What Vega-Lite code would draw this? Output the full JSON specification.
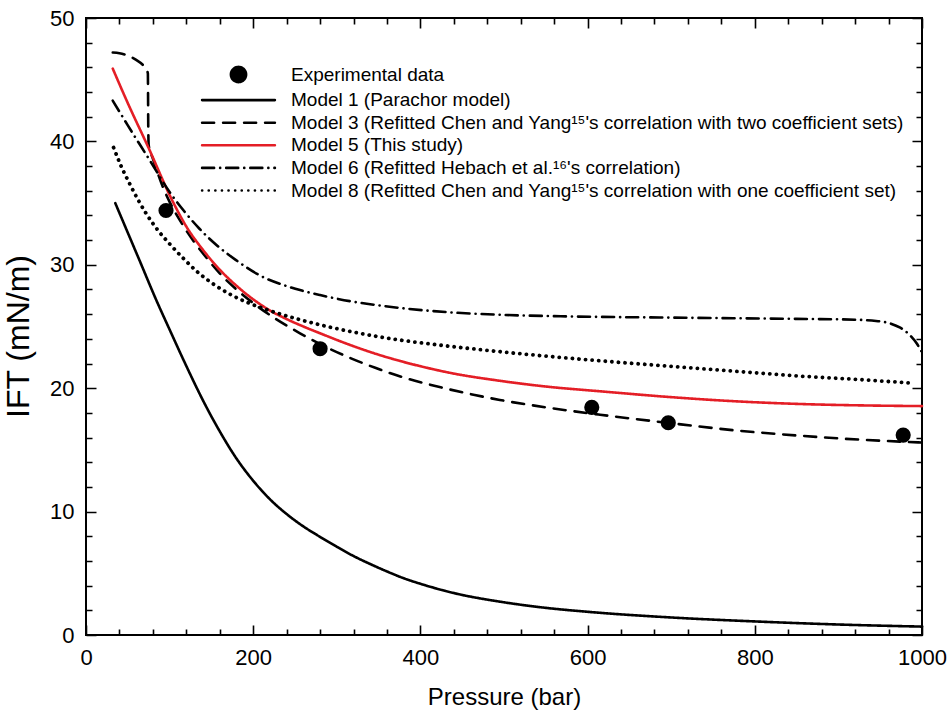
{
  "$schema": "https://vega.github.io/schema/vega-lite/v6.json",
  "width": 836,
  "height": 617,
  "autosize": {"type": "none"},
  "padding": {"left": 86, "top": 18, "right": 28, "bottom": 86},
  "background": "white",
  "config": {
    "view": {"stroke": "black", "strokeWidth": 2},
    "font": "Liberation Sans",
    "axis": {
      "domain": false, "ticks": false, "tickSize": 0, "grid": true, "gridColor": "#000000", "gridWidth": 1.6, "gridOpacity": 1,
      "labelColor": "black", "titleColor": "black", "labelFont": "Liberation Sans",
      "titleFont": "Liberation Sans", "titleFontWeight": "normal",
      "labelFontSize": 22, "titleFontSize": 24, "labelOverlap": false, "labelFlush": false
    },
    "line": {"interpolate": "monotone", "strokeCap": "round", "clip": true}
  },
  "datasets": {
    "curves": [
      {"series": "Model 1 (Parachor model)", "P": 35, "IFT": 35.0},
      {"series": "Model 1 (Parachor model)", "P": 50, "IFT": 32.6},
      {"series": "Model 1 (Parachor model)", "P": 65, "IFT": 30.2},
      {"series": "Model 1 (Parachor model)", "P": 84, "IFT": 27.15},
      {"series": "Model 1 (Parachor model)", "P": 100, "IFT": 24.75},
      {"series": "Model 1 (Parachor model)", "P": 120, "IFT": 21.8},
      {"series": "Model 1 (Parachor model)", "P": 140, "IFT": 19.0},
      {"series": "Model 1 (Parachor model)", "P": 160, "IFT": 16.5},
      {"series": "Model 1 (Parachor model)", "P": 180, "IFT": 14.3},
      {"series": "Model 1 (Parachor model)", "P": 200, "IFT": 12.5},
      {"series": "Model 1 (Parachor model)", "P": 220, "IFT": 11.0},
      {"series": "Model 1 (Parachor model)", "P": 240, "IFT": 9.8},
      {"series": "Model 1 (Parachor model)", "P": 260, "IFT": 8.8},
      {"series": "Model 1 (Parachor model)", "P": 280, "IFT": 7.95},
      {"series": "Model 1 (Parachor model)", "P": 300, "IFT": 7.15},
      {"series": "Model 1 (Parachor model)", "P": 320, "IFT": 6.4},
      {"series": "Model 1 (Parachor model)", "P": 340, "IFT": 5.75},
      {"series": "Model 1 (Parachor model)", "P": 360, "IFT": 5.15},
      {"series": "Model 1 (Parachor model)", "P": 380, "IFT": 4.6},
      {"series": "Model 1 (Parachor model)", "P": 400, "IFT": 4.15},
      {"series": "Model 1 (Parachor model)", "P": 440, "IFT": 3.4},
      {"series": "Model 1 (Parachor model)", "P": 500, "IFT": 2.65},
      {"series": "Model 1 (Parachor model)", "P": 550, "IFT": 2.2},
      {"series": "Model 1 (Parachor model)", "P": 600, "IFT": 1.88},
      {"series": "Model 1 (Parachor model)", "P": 700, "IFT": 1.42},
      {"series": "Model 1 (Parachor model)", "P": 800, "IFT": 1.1},
      {"series": "Model 1 (Parachor model)", "P": 900, "IFT": 0.85},
      {"series": "Model 1 (Parachor model)", "P": 1000, "IFT": 0.68},

      {"series": "Model 3 (Refitted Chen and Yang¹⁵'s correlation with two coefficient sets)", "P": 32, "IFT": 47.2},
      {"series": "Model 3 (Refitted Chen and Yang¹⁵'s correlation with two coefficient sets)", "P": 40, "IFT": 47.15},
      {"series": "Model 3 (Refitted Chen and Yang¹⁵'s correlation with two coefficient sets)", "P": 50, "IFT": 46.95},
      {"series": "Model 3 (Refitted Chen and Yang¹⁵'s correlation with two coefficient sets)", "P": 60, "IFT": 46.6},
      {"series": "Model 3 (Refitted Chen and Yang¹⁵'s correlation with two coefficient sets)", "P": 68, "IFT": 46.2},
      {"series": "Model 3 (Refitted Chen and Yang¹⁵'s correlation with two coefficient sets)", "P": 72, "IFT": 45.9},
      {"series": "Model 3 (Refitted Chen and Yang¹⁵'s correlation with two coefficient sets)", "P": 74, "IFT": 45.5},
      {"series": "Model 3 (Refitted Chen and Yang¹⁵'s correlation with two coefficient sets)", "P": 74.5, "IFT": 41.0},
      {"series": "Model 3 (Refitted Chen and Yang¹⁵'s correlation with two coefficient sets)", "P": 75, "IFT": 39.7},
      {"series": "Model 3 (Refitted Chen and Yang¹⁵'s correlation with two coefficient sets)", "P": 80, "IFT": 38.6},
      {"series": "Model 3 (Refitted Chen and Yang¹⁵'s correlation with two coefficient sets)", "P": 86, "IFT": 37.4},
      {"series": "Model 3 (Refitted Chen and Yang¹⁵'s correlation with two coefficient sets)", "P": 92, "IFT": 36.3},
      {"series": "Model 3 (Refitted Chen and Yang¹⁵'s correlation with two coefficient sets)", "P": 100, "IFT": 35.1},
      {"series": "Model 3 (Refitted Chen and Yang¹⁵'s correlation with two coefficient sets)", "P": 116, "IFT": 33.2},
      {"series": "Model 3 (Refitted Chen and Yang¹⁵'s correlation with two coefficient sets)", "P": 130, "IFT": 31.8},
      {"series": "Model 3 (Refitted Chen and Yang¹⁵'s correlation with two coefficient sets)", "P": 145, "IFT": 30.5},
      {"series": "Model 3 (Refitted Chen and Yang¹⁵'s correlation with two coefficient sets)", "P": 160, "IFT": 29.3},
      {"series": "Model 3 (Refitted Chen and Yang¹⁵'s correlation with two coefficient sets)", "P": 180, "IFT": 28.0},
      {"series": "Model 3 (Refitted Chen and Yang¹⁵'s correlation with two coefficient sets)", "P": 200, "IFT": 26.9},
      {"series": "Model 3 (Refitted Chen and Yang¹⁵'s correlation with two coefficient sets)", "P": 225, "IFT": 25.7},
      {"series": "Model 3 (Refitted Chen and Yang¹⁵'s correlation with two coefficient sets)", "P": 256, "IFT": 24.45},
      {"series": "Model 3 (Refitted Chen and Yang¹⁵'s correlation with two coefficient sets)", "P": 285, "IFT": 23.4},
      {"series": "Model 3 (Refitted Chen and Yang¹⁵'s correlation with two coefficient sets)", "P": 316, "IFT": 22.45},
      {"series": "Model 3 (Refitted Chen and Yang¹⁵'s correlation with two coefficient sets)", "P": 346, "IFT": 21.65},
      {"series": "Model 3 (Refitted Chen and Yang¹⁵'s correlation with two coefficient sets)", "P": 376, "IFT": 20.95},
      {"series": "Model 3 (Refitted Chen and Yang¹⁵'s correlation with two coefficient sets)", "P": 405, "IFT": 20.4},
      {"series": "Model 3 (Refitted Chen and Yang¹⁵'s correlation with two coefficient sets)", "P": 435, "IFT": 19.9},
      {"series": "Model 3 (Refitted Chen and Yang¹⁵'s correlation with two coefficient sets)", "P": 465, "IFT": 19.45},
      {"series": "Model 3 (Refitted Chen and Yang¹⁵'s correlation with two coefficient sets)", "P": 495, "IFT": 19.05},
      {"series": "Model 3 (Refitted Chen and Yang¹⁵'s correlation with two coefficient sets)", "P": 555, "IFT": 18.4},
      {"series": "Model 3 (Refitted Chen and Yang¹⁵'s correlation with two coefficient sets)", "P": 615, "IFT": 17.85},
      {"series": "Model 3 (Refitted Chen and Yang¹⁵'s correlation with two coefficient sets)", "P": 695, "IFT": 17.2},
      {"series": "Model 3 (Refitted Chen and Yang¹⁵'s correlation with two coefficient sets)", "P": 774, "IFT": 16.6},
      {"series": "Model 3 (Refitted Chen and Yang¹⁵'s correlation with two coefficient sets)", "P": 854, "IFT": 16.15},
      {"series": "Model 3 (Refitted Chen and Yang¹⁵'s correlation with two coefficient sets)", "P": 934, "IFT": 15.8},
      {"series": "Model 3 (Refitted Chen and Yang¹⁵'s correlation with two coefficient sets)", "P": 1000, "IFT": 15.6},

      {"series": "Model 5 (This study)", "P": 32, "IFT": 45.9},
      {"series": "Model 5 (This study)", "P": 50, "IFT": 43.1},
      {"series": "Model 5 (This study)", "P": 74, "IFT": 39.6},
      {"series": "Model 5 (This study)", "P": 104, "IFT": 35.1},
      {"series": "Model 5 (This study)", "P": 120, "IFT": 33.1},
      {"series": "Model 5 (This study)", "P": 140, "IFT": 31.2},
      {"series": "Model 5 (This study)", "P": 160, "IFT": 29.6},
      {"series": "Model 5 (This study)", "P": 180, "IFT": 28.3},
      {"series": "Model 5 (This study)", "P": 200, "IFT": 27.2},
      {"series": "Model 5 (This study)", "P": 220, "IFT": 26.3},
      {"series": "Model 5 (This study)", "P": 240, "IFT": 25.6},
      {"series": "Model 5 (This study)", "P": 260, "IFT": 25.0},
      {"series": "Model 5 (This study)", "P": 280, "IFT": 24.45},
      {"series": "Model 5 (This study)", "P": 316, "IFT": 23.5},
      {"series": "Model 5 (This study)", "P": 346, "IFT": 22.8},
      {"series": "Model 5 (This study)", "P": 376, "IFT": 22.2},
      {"series": "Model 5 (This study)", "P": 405, "IFT": 21.7},
      {"series": "Model 5 (This study)", "P": 435, "IFT": 21.25},
      {"series": "Model 5 (This study)", "P": 495, "IFT": 20.6},
      {"series": "Model 5 (This study)", "P": 555, "IFT": 20.1},
      {"series": "Model 5 (This study)", "P": 615, "IFT": 19.75},
      {"series": "Model 5 (This study)", "P": 695, "IFT": 19.3},
      {"series": "Model 5 (This study)", "P": 774, "IFT": 18.95},
      {"series": "Model 5 (This study)", "P": 854, "IFT": 18.72},
      {"series": "Model 5 (This study)", "P": 934, "IFT": 18.6},
      {"series": "Model 5 (This study)", "P": 1000, "IFT": 18.55},

      {"series": "Model 6 (Refitted Hebach et al.¹⁶'s correlation)", "P": 32, "IFT": 43.3},
      {"series": "Model 6 (Refitted Hebach et al.¹⁶'s correlation)", "P": 50, "IFT": 41.3},
      {"series": "Model 6 (Refitted Hebach et al.¹⁶'s correlation)", "P": 76, "IFT": 38.5},
      {"series": "Model 6 (Refitted Hebach et al.¹⁶'s correlation)", "P": 100, "IFT": 35.9},
      {"series": "Model 6 (Refitted Hebach et al.¹⁶'s correlation)", "P": 118, "IFT": 34.3},
      {"series": "Model 6 (Refitted Hebach et al.¹⁶'s correlation)", "P": 136, "IFT": 32.9},
      {"series": "Model 6 (Refitted Hebach et al.¹⁶'s correlation)", "P": 157, "IFT": 31.55},
      {"series": "Model 6 (Refitted Hebach et al.¹⁶'s correlation)", "P": 179, "IFT": 30.4},
      {"series": "Model 6 (Refitted Hebach et al.¹⁶'s correlation)", "P": 209, "IFT": 29.1},
      {"series": "Model 6 (Refitted Hebach et al.¹⁶'s correlation)", "P": 239, "IFT": 28.3},
      {"series": "Model 6 (Refitted Hebach et al.¹⁶'s correlation)", "P": 256, "IFT": 27.95},
      {"series": "Model 6 (Refitted Hebach et al.¹⁶'s correlation)", "P": 280, "IFT": 27.55},
      {"series": "Model 6 (Refitted Hebach et al.¹⁶'s correlation)", "P": 316, "IFT": 27.05},
      {"series": "Model 6 (Refitted Hebach et al.¹⁶'s correlation)", "P": 346, "IFT": 26.75},
      {"series": "Model 6 (Refitted Hebach et al.¹⁶'s correlation)", "P": 376, "IFT": 26.5},
      {"series": "Model 6 (Refitted Hebach et al.¹⁶'s correlation)", "P": 435, "IFT": 26.15},
      {"series": "Model 6 (Refitted Hebach et al.¹⁶'s correlation)", "P": 495, "IFT": 25.95},
      {"series": "Model 6 (Refitted Hebach et al.¹⁶'s correlation)", "P": 575, "IFT": 25.82},
      {"series": "Model 6 (Refitted Hebach et al.¹⁶'s correlation)", "P": 700, "IFT": 25.72},
      {"series": "Model 6 (Refitted Hebach et al.¹⁶'s correlation)", "P": 774, "IFT": 25.67},
      {"series": "Model 6 (Refitted Hebach et al.¹⁶'s correlation)", "P": 850, "IFT": 25.62},
      {"series": "Model 6 (Refitted Hebach et al.¹⁶'s correlation)", "P": 920, "IFT": 25.55},
      {"series": "Model 6 (Refitted Hebach et al.¹⁶'s correlation)", "P": 945, "IFT": 25.45},
      {"series": "Model 6 (Refitted Hebach et al.¹⁶'s correlation)", "P": 962, "IFT": 25.25},
      {"series": "Model 6 (Refitted Hebach et al.¹⁶'s correlation)", "P": 974, "IFT": 24.9},
      {"series": "Model 6 (Refitted Hebach et al.¹⁶'s correlation)", "P": 984, "IFT": 24.4},
      {"series": "Model 6 (Refitted Hebach et al.¹⁶'s correlation)", "P": 994, "IFT": 23.6},
      {"series": "Model 6 (Refitted Hebach et al.¹⁶'s correlation)", "P": 1000, "IFT": 22.9},

      {"series": "Model 8 (Refitted Chen and Yang¹⁵'s correlation with one coefficient set)", "P": 33, "IFT": 39.5},
      {"series": "Model 8 (Refitted Chen and Yang¹⁵'s correlation with one coefficient set)", "P": 42, "IFT": 38.0},
      {"series": "Model 8 (Refitted Chen and Yang¹⁵'s correlation with one coefficient set)", "P": 52, "IFT": 36.6},
      {"series": "Model 8 (Refitted Chen and Yang¹⁵'s correlation with one coefficient set)", "P": 62, "IFT": 35.3},
      {"series": "Model 8 (Refitted Chen and Yang¹⁵'s correlation with one coefficient set)", "P": 72, "IFT": 34.15},
      {"series": "Model 8 (Refitted Chen and Yang¹⁵'s correlation with one coefficient set)", "P": 86, "IFT": 32.8},
      {"series": "Model 8 (Refitted Chen and Yang¹⁵'s correlation with one coefficient set)", "P": 100, "IFT": 31.7},
      {"series": "Model 8 (Refitted Chen and Yang¹⁵'s correlation with one coefficient set)", "P": 116, "IFT": 30.55},
      {"series": "Model 8 (Refitted Chen and Yang¹⁵'s correlation with one coefficient set)", "P": 132, "IFT": 29.5},
      {"series": "Model 8 (Refitted Chen and Yang¹⁵'s correlation with one coefficient set)", "P": 150, "IFT": 28.55},
      {"series": "Model 8 (Refitted Chen and Yang¹⁵'s correlation with one coefficient set)", "P": 171, "IFT": 27.66},
      {"series": "Model 8 (Refitted Chen and Yang¹⁵'s correlation with one coefficient set)", "P": 195, "IFT": 26.9},
      {"series": "Model 8 (Refitted Chen and Yang¹⁵'s correlation with one coefficient set)", "P": 219, "IFT": 26.3},
      {"series": "Model 8 (Refitted Chen and Yang¹⁵'s correlation with one coefficient set)", "P": 256, "IFT": 25.55},
      {"series": "Model 8 (Refitted Chen and Yang¹⁵'s correlation with one coefficient set)", "P": 279, "IFT": 25.15},
      {"series": "Model 8 (Refitted Chen and Yang¹⁵'s correlation with one coefficient set)", "P": 316, "IFT": 24.6},
      {"series": "Model 8 (Refitted Chen and Yang¹⁵'s correlation with one coefficient set)", "P": 346, "IFT": 24.22},
      {"series": "Model 8 (Refitted Chen and Yang¹⁵'s correlation with one coefficient set)", "P": 376, "IFT": 23.9},
      {"series": "Model 8 (Refitted Chen and Yang¹⁵'s correlation with one coefficient set)", "P": 435, "IFT": 23.4},
      {"series": "Model 8 (Refitted Chen and Yang¹⁵'s correlation with one coefficient set)", "P": 495, "IFT": 22.96},
      {"series": "Model 8 (Refitted Chen and Yang¹⁵'s correlation with one coefficient set)", "P": 555, "IFT": 22.57},
      {"series": "Model 8 (Refitted Chen and Yang¹⁵'s correlation with one coefficient set)", "P": 615, "IFT": 22.22},
      {"series": "Model 8 (Refitted Chen and Yang¹⁵'s correlation with one coefficient set)", "P": 695, "IFT": 21.8},
      {"series": "Model 8 (Refitted Chen and Yang¹⁵'s correlation with one coefficient set)", "P": 774, "IFT": 21.38},
      {"series": "Model 8 (Refitted Chen and Yang¹⁵'s correlation with one coefficient set)", "P": 854, "IFT": 20.98},
      {"series": "Model 8 (Refitted Chen and Yang¹⁵'s correlation with one coefficient set)", "P": 934, "IFT": 20.66},
      {"series": "Model 8 (Refitted Chen and Yang¹⁵'s correlation with one coefficient set)", "P": 990, "IFT": 20.4}
    ],
    "exp": [
      {"series": "Experimental data", "P": 95.7, "IFT": 34.4},
      {"series": "Experimental data", "P": 280, "IFT": 23.2},
      {"series": "Experimental data", "P": 605, "IFT": 18.45},
      {"series": "Experimental data", "P": 696.5, "IFT": 17.2},
      {"series": "Experimental data", "P": 977.5, "IFT": 16.2}
    ]
  },
  "layer": [
    {
      "data": {"name": "curves"},
      "transform": [{"filter": "indexof(datum.series, 'Model 8') < 0"}],
      "mark": {"type": "line", "strokeWidth": 2.6},
      "encoding": {
        "x": {
          "field": "P", "type": "quantitative",
          "scale": {"domain": [0, 1000], "nice": false, "zero": false},
          "axis": {
            "orient": "bottom", "title": "Pressure (bar)", "format": "d",
            "values": [0, 200, 400, 600, 800, 1000],
            "grid": true, "gridColor": "#000000", "gridWidth": 1.6, "gridOpacity": 1,
            "gridDash": [10, 597, 10, 2000],
            "labelPadding": 12, "titlePadding": 17
          }
        },
        "y": {
          "field": "IFT", "type": "quantitative",
          "scale": {"domain": [0, 50], "nice": false, "zero": false},
          "axis": {
            "orient": "left", "title": "IFT (mN/m)", "titleFontSize": 32, "titleY": 318,
            "values": [0, 10, 20, 30, 40, 50],
            "grid": true, "gridColor": "#000000", "gridWidth": 1.6, "gridOpacity": 1,
            "gridDash": [10, 816, 10, 2000],
            "labelPadding": 12, "titlePadding": 14
          }
        },
        "color": {
          "field": "series", "type": "nominal",
          "scale": {
            "domain": ["Experimental data", "Model 1 (Parachor model)", "Model 3 (Refitted Chen and Yang¹⁵'s correlation with two coefficient sets)", "Model 5 (This study)", "Model 6 (Refitted Hebach et al.¹⁶'s correlation)", "Model 8 (Refitted Chen and Yang¹⁵'s correlation with one coefficient set)"],
            "range": ["black", "black", "black", "#e41e26", "black", "black"]
          },
          "legend": {"title": null, "orient": "none", "legendX": 143, "legendY": 47, "padding": 0, "labelFontSize": 19, "labelFont": "Liberation Sans", "labelColor": "black", "labelLimit": 800, "symbolSize": 230, "symbolStrokeWidth": 2.6, "labelOffset": 43, "rowPadding": 2.6, "symbolLimit": 0, "encode": {"symbols": {"update": {"strokeCap": {"value": "round"}}}}}
        },
        "strokeDash": {
          "field": "series", "type": "nominal",
          "scale": {
            "domain": ["Experimental data", "Model 1 (Parachor model)", "Model 3 (Refitted Chen and Yang¹⁵'s correlation with two coefficient sets)", "Model 5 (This study)", "Model 6 (Refitted Hebach et al.¹⁶'s correlation)", "Model 8 (Refitted Chen and Yang¹⁵'s correlation with one coefficient set)"],
            "range": [[1, 0], [1, 0], [12, 9], [1, 0], [12, 6, 0.1, 6], [0.1, 6.5]]
          },
          "legend": {"title": null, "orient": "none", "legendX": 143, "legendY": 47, "padding": 0, "labelFontSize": 19, "labelFont": "Liberation Sans", "labelColor": "black", "labelLimit": 800, "symbolSize": 230, "symbolStrokeWidth": 2.6, "labelOffset": 43, "rowPadding": 2.6, "symbolLimit": 0, "encode": {"symbols": {"update": {"strokeCap": {"value": "round"}}}}}
        }
      }
    },
    {
      "data": {"name": "curves"},
      "transform": [{"filter": "indexof(datum.series, 'Model 8') >= 0"}],
      "mark": {"type": "line", "strokeWidth": 3.8},
      "encoding": {
        "x": {
          "field": "P", "type": "quantitative",
          "axis": {
            "orient": "top", "title": null, "labels": false,
            "values": [40,80,120,160,240,280,320,360,440,480,520,560,640,680,720,760,840,880,920,960],
            "grid": true, "gridColor": "#000000", "gridWidth": 1.6, "gridOpacity": 1,
            "gridDash": [6, 605, 6, 2000]
          }
        },
        "y": {
          "field": "IFT", "type": "quantitative",
          "axis": {
            "orient": "right", "title": null, "labels": false,
            "values": [2,4,6,8,12,14,16,18,22,24,26,28,32,34,36,38,42,44,46,48],
            "grid": true, "gridColor": "#000000", "gridWidth": 1.6, "gridOpacity": 1,
            "gridDash": [6, 824, 6, 2000]
          }
        },
        "color": {"field": "series", "type": "nominal"},
        "strokeDash": {"field": "series", "type": "nominal"}
      }
    },
    {
      "data": {"name": "exp"},
      "mark": {"type": "point", "filled": true, "size": 230, "opacity": 1},
      "encoding": {
        "x": {"field": "P", "type": "quantitative", "axis": null},
        "y": {"field": "IFT", "type": "quantitative", "axis": null},
        "color": {"field": "series", "type": "nominal"},
        "shape": {
          "field": "series", "type": "nominal",
          "scale": {
            "domain": ["Experimental data", "Model 1 (Parachor model)", "Model 3 (Refitted Chen and Yang¹⁵'s correlation with two coefficient sets)", "Model 5 (This study)", "Model 6 (Refitted Hebach et al.¹⁶'s correlation)", "Model 8 (Refitted Chen and Yang¹⁵'s correlation with one coefficient set)"],
            "range": ["circle", "M-4.8,0H4.8", "M-4.8,0H4.8", "M-4.8,0H4.8", "M-4.8,0H4.8", "M-4.8,0H4.8"]
          },
          "legend": {"title": null, "orient": "none", "legendX": 143, "legendY": 47, "padding": 0, "labelFontSize": 19, "labelFont": "Liberation Sans", "labelColor": "black", "labelLimit": 800, "symbolSize": 230, "symbolStrokeWidth": 2.6, "labelOffset": 43, "rowPadding": 2.6, "symbolLimit": 0, "encode": {"symbols": {"update": {"strokeCap": {"value": "round"}}}}}
        }
      }
    }
  ],
  "resolve": {"axis": {"x": "independent", "y": "independent"}}
}
